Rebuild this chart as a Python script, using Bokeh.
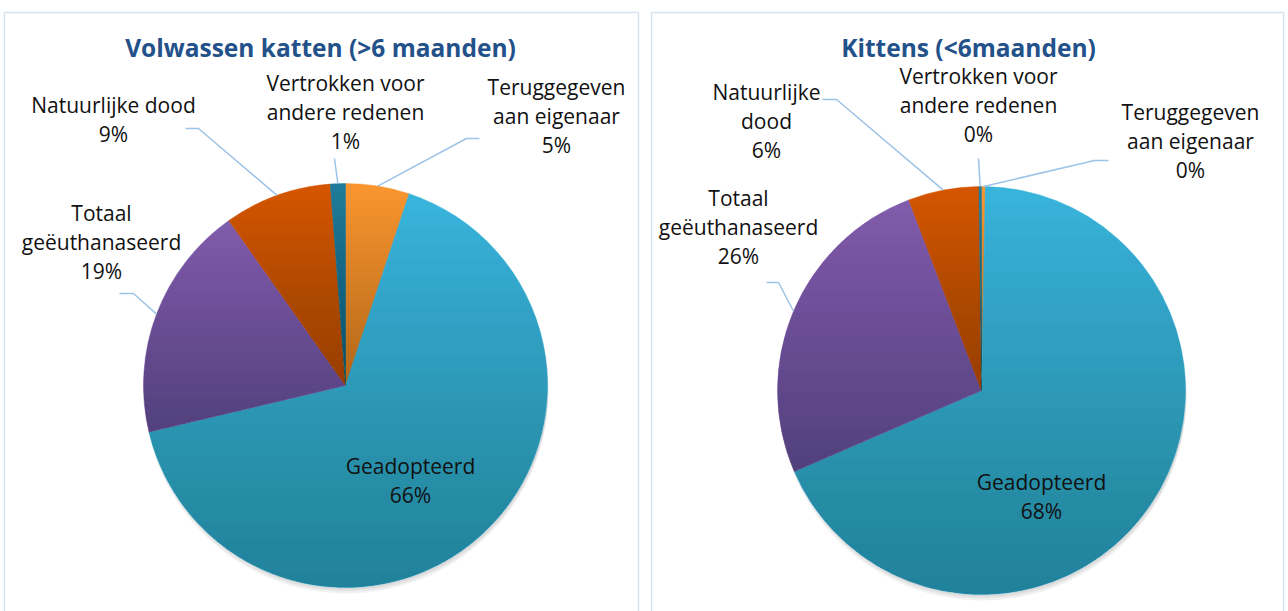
import textwrap
import numpy as np
from bokeh.plotting import figure
from bokeh.models import Range1d, ColumnDataSource
from bokeh.core.properties import value
from bokeh.embed import file_html
from bokeh.resources import INLINE

# ---------------- data ----------------
categories = ["Teruggegeven aan eigenaar", "Geadopteerd", "Totaal geëuthanaseerd",
              "Natuurlijke dood", "Vertrokken voor andere redenen"]
adult_pct = [5.1, 66.2, 18.9, 8.6, 1.2]
kitten_pct = [0.3, 68.2, 25.7, 5.6, 0.2]
titles = ["Volwassen katten (>6 maanden)", "Kittens (<6maanden)"]

# ---------------- style / layout ----------------
colors = ["#F8952F", "#38B4DA", "#805CAC", "#D45500", "#1F7B99"]
FONT = "Open Sans"
LABEL_SIZE = 21
TITLE_SIZE = 24.5
LINE_H = 29
LEADER = "#9DC3E6"

W, H = 1288, 611
p = figure(width=W, height=H, output_backend="svg", toolbar_location=None,
           x_range=Range1d(0, W), y_range=Range1d(-H, 0),
           min_border=0, outline_line_color=None)
p.axis.visible = False
p.grid.visible = False
p.background_fill_color = "white"
p.border_fill_color = "white"

# panel borders
p.quad(left=[4, 651], right=[638, 1283], top=[-12, -12], bottom=[-700, -700],
       fill_color=None, line_color="#D9E2EF", line_width=1.5)

pies = [
    dict(vals=adult_pct, cx=345, cy=385, r=202, title=(320, 47),
         labels=[(556, 86, 12, (466, 138), (479, 138)),
                 (410, 465, 20, None, None),
                 (101, 212, 14, (133, 293), (119, 293)),
                 (113, 104, 16, (198, 128), (185, 128)),
                 (345, 82, 15, (334, 158), (334, 158))]),
    dict(vals=kitten_pct, cx=981, cy=390, r=204, title=(968, 47),
         labels=[(1190, 111, 12, (1094, 160), (1108, 160)),
                 (1041, 481, 20, None, None),
                 (738, 197, 14, (778, 282), (766, 282)),
                 (766, 91, 11, (836, 99), (822, 99)),
                 (978, 75, 15, (978, 158), (978, 158))]),
]


def clip_below(poly, t):
    """Clip polygon (list of (x,y)) to half-plane y <= t."""
    out = []
    n = len(poly)
    for i in range(n):
        x1, y1 = poly[i]
        x2, y2 = poly[(i + 1) % n]
        in1, in2 = y1 <= t, y2 <= t
        if in1:
            out.append((x1, y1))
        if in1 != in2:
            f = (t - y1) / (y2 - y1)
            out.append((x1 + f * (x2 - x1), t))
    return out


K = 24
ALPHA = 1 - 0.76 ** (1.0 / K)

for pi_, pie in enumerate(pies):
    vals = np.array(pie["vals"], float)
    frac = vals / vals.sum()
    cum = np.concatenate([[0.0], np.cumsum(frac)])
    start = np.pi / 2 - 2 * np.pi * cum[:-1]
    end = np.pi / 2 - 2 * np.pi * cum[1:]
    cx, cy, r = pie["cx"], -pie["cy"], pie["r"]

    # shadow
    for off in (2, 4, 6):
        p.circle(x=[cx + 1], y=[cy - off], radius=r, fill_color="black",
                 fill_alpha=0.05, line_color=None)

    src = ColumnDataSource(dict(start=start, end=end, color=colors, name=categories))
    p.wedge(x=cx, y=cy, radius=r, start_angle="start", end_angle="end",
            direction="clock", fill_color="color", line_color="color",
            line_width=0.5, source=src)

    # per-slice vertical gradient (darkening overlays)
    xs, ys = [], []
    for s, e in zip(start, end):
        th = np.linspace(s, e, max(4, int(abs(s - e) * 80)))
        poly = [(cx, cy)] + [(cx + r * np.cos(a), cy + r * np.sin(a)) for a in th]
        yv = [q[1] for q in poly]
        ymin, ymax = min(yv), max(yv)
        for k in range(1, K + 1):
            t = ymax - (ymax - ymin) * k / K
            cp = clip_below(poly, t)
            if len(cp) >= 3:
                xs.append([q[0] for q in cp])
                ys.append([q[1] for q in cp])
    p.patches(xs=xs, ys=ys, fill_color="black", fill_alpha=ALPHA, line_color=None)

    # leaders and labels
    mid = (start + end) / 2
    tx, ty, tt = [], [], []
    for i, (lx, ly, wrap, elbow, tail) in enumerate(pie["labels"]):
        lines = textwrap.wrap(categories[i], width=wrap) + [f"{round(vals[i])}%"]
        for j, ln in enumerate(lines):
            tx.append(lx)
            ty.append(-(ly + j * LINE_H))
            tt.append(ln)
        if elbow is not None:
            sx = cx + r * np.cos(mid[i])
            sy = cy + r * np.sin(mid[i])
            p.line(x=[sx, elbow[0], tail[0]], y=[sy, -elbow[1], -tail[1]],
                   line_color=LEADER, line_width=1.5)
    p.text(x=tx, y=ty, text=tt, text_font=value(FONT), text_font_size=f"{LABEL_SIZE}px",
           text_align="center", text_baseline="middle", text_color="#111111")
    p.text(x=[pie["title"][0]], y=[-pie["title"][1]], text=[titles[pi_]],
           text_font=value(FONT), text_font_size=f"{TITLE_SIZE}px", text_font_style="bold",
           text_align="center", text_baseline="middle", text_color="#23518A")

open("out.html", "w").write(file_html(p, INLINE))
